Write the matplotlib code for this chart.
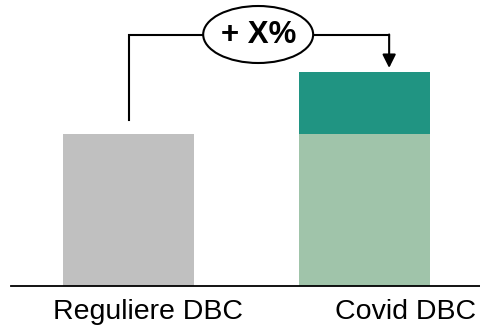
import matplotlib.pyplot as plt
from matplotlib.patches import Ellipse

plt.rcParams['font.family'] = ['Liberation Sans', 'DejaVu Sans']

categories = ['Reguliere DBC', 'Covid DBC']
base_values = [100, 100]
extra_values = [0, 41]
label_text = '+ X%'

fig = plt.figure(figsize=(4.8, 3.28), dpi=100)
ax = fig.add_axes([0, 0, 1, 1])
ax.set_xlim(-0.545, 1.489)
ax.set_ylim(-27.6, 188.2)
ax.axis('off')

x = [0, 1]
ax.bar(x, base_values, width=0.555, color=['#C0C0C0', '#A0C4AA'])
ax.bar(x, extra_values, bottom=base_values, width=0.555, color='#209482')

# baseline
ax.plot([-0.50, 1.49], [0, 0], color='black', lw=1.3)

# labels onder de balken
ax.text(0.083, -21.5, categories[0], ha='center', va='baseline', fontsize=20.5)
ax.text(1.172, -21.5, categories[1], ha='center', va='baseline', fontsize=20.5)

# verbindingslijn met pijl
top = 165
ax.plot([0, 0, 1.104], [109, top, top], color='black', lw=1.5, solid_joinstyle='miter')
ax.annotate('', xy=(1.104, 143.5), xytext=(1.104, top + 0.5),
            arrowprops=dict(arrowstyle='-|>', mutation_scale=20, color='black', lw=1.5,
                            shrinkA=0, shrinkB=0))

ell = Ellipse((0.549, 165.5), 0.466, 37.5, facecolor='white', edgecolor='black', lw=1.5, zorder=3)
ax.add_patch(ell)
ax.text(0.553, 165, label_text, ha='center', va='center', fontsize=22.5, fontweight='bold', zorder=4)

fig.savefig('out.png', dpi=100)
